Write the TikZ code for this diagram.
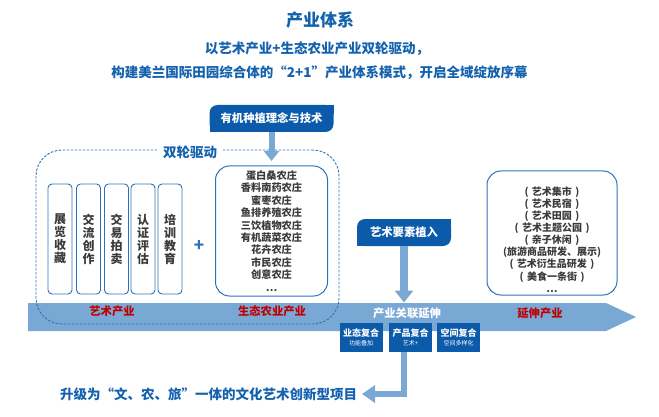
\documentclass[tikz,border=0pt]{standalone}
\usepackage{fontspec}
\setmainfont{Noto Sans CJK SC}
\usetikzlibrary{arrows.meta,calc}
\definecolor{dkblue}{HTML}{0B5BAA}
\definecolor{ttblue}{HTML}{1462AE}
\definecolor{ltblue}{HTML}{7AA8D5}
\definecolor{lnblue}{HTML}{2F70B8}
\definecolor{redtxt}{HTML}{C00000}
\definecolor{gtxt}{HTML}{3A3A3A}
\newcommand\fsz[2]{\fontsize{#1}{#2}\selectfont}
\newcommand\subtxtfont{\mdseries\fsz{6}{7}}
\newcommand\pp[1]{(\hspace{3.5pt}#1\hspace{3.5pt})}
\begin{document}
\begin{tikzpicture}[x=1pt,y=-1pt,
  every node/.style={inner sep=0pt,outer sep=0pt},
  tagbox/.style={fill=dkblue,text=white,font=\bfseries\fsz{11.3}{13},rounded corners=8pt,minimum height=27pt},
  colbox/.style={draw=lnblue,line width=0.9pt,rounded corners=4pt,minimum width=24pt,minimum height=110pt,text=gtxt,font=\bfseries\fsz{12}{13},align=center},
  listbox/.style={draw=lnblue,line width=1pt,rounded corners=14pt},
  listtext/.style={text=gtxt,font=\bfseries\fsz{10.2}{12.4},align=center},
  bandlbl/.style={font=\bfseries\fsz{11.3}{13}},
  mixbox/.style={fill=dkblue,text=white,minimum width=43pt,minimum height=28.5pt,align=center,font=\bfseries\fsz{9}{10}},
  fatarrow/.style={draw=ltblue,line width=6pt,-{Triangle[width=15pt,length=10pt]}},
]
\useasboundingbox (0,0) rectangle (659,417);

% titles
\node[text=ttblue,font=\bfseries\fsz{17}{20}] (title) at (320,20) {产业体系};
\node[text=ttblue,font=\bfseries\fsz{13.5}{16}] (sub1) at (317,49) {以艺术产业+生态农业产业双轮驱动，};
\node[text=ttblue,font=\bfseries\fsz{13.5}{16}] (sub2) at (319.5,73) {构建美兰国际田园综合体的“2+1”产业体系模式，开启全域绽放序幕};

% band
\fill[ltblue] (28,303) -- (606,303) -- (636,317) -- (606,331) -- (28,331) -- cycle;
\node[bandlbl,text=redtxt] (l1) at (112,311) {艺术产业};
\node[bandlbl,text=redtxt] (l2) at (272,311) {生态农业产业};
\node[bandlbl,text=white] (l3) at (407,313) {产业关联延伸};
\node[bandlbl,text=redtxt] (l4) at (540,313) {延伸产业};

% dual-wheel dashed group
\node[draw=lnblue,dash pattern=on 2.5pt off 1.5pt,line width=0.9pt,rounded corners=26pt,minimum width=303pt,minimum height=174pt] (dual) at (187.5,237) {};
\node[fill=white,inner xsep=6pt,inner ysep=2pt,text=ttblue,font=\bfseries\fsz{13.5}{15}] (duallbl) at (190,152) {双轮驱动};

% art columns
\node[colbox] (c1) at (60,239) {展\\览\\收\\藏};
\node[colbox] (c2) at (88.5,239) {交\\流\\创\\作};
\node[colbox] (c3) at (116.5,239) {交\\易\\拍\\卖};
\node[colbox] (c4) at (143,239) {认\\证\\评\\估};
\node[colbox] (c5) at (170,239) {培\\训\\教\\育};
\node[text=lnblue,font=\bfseries\fsz{17}{17}] (plus) at (199,246) {+};

% farm list
\node[listbox,listtext,minimum width=112pt,minimum height=130pt] (farm) at (271.5,231) {蛋白桑农庄\\香料南药农庄\\蜜枣农庄\\鱼排养殖农庄\\三饮植物农庄\\有机蔬菜农庄\\花卉农庄\\市民农庄\\创意农庄\\…};

% technology tag
\node[tagbox,minimum width=124pt] (tech) at (271.5,118.5) {有机种植理念与技术};
\fill[dkblue] ([xshift=-9pt,yshift=-9pt]tech.north east) rectangle (tech.north east);
\fill[dkblue] (tech.south west) rectangle ([xshift=9pt,yshift=9pt]tech.south west);
\draw[fatarrow] (tech.south) -- ([yshift=5pt]farm.north);

% art element tag
\node[tagbox,minimum width=94pt] (art) at (404,232.5) {艺术要素植入};
\fill[dkblue] ([xshift=-9pt,yshift=-9pt]art.north east) rectangle (art.north east);
\fill[dkblue] (art.south west) rectangle ([xshift=9pt,yshift=9pt]art.south west);
\coordinate (bandin) at (404,302.5);
\draw[fatarrow,line width=8pt,-{Triangle[width=18pt,length=12pt]}] (art.south) -- (bandin);

% extension list
\node[listbox,minimum width=130pt,minimum height=124pt] (ext) at (552,233) {};
\node[listtext,font=\bfseries\fsz{10}{12.1}] (extlist) at (552,239.5) {\pp{艺术集市}\\\pp{艺术民宿}\\\pp{艺术田园}\\\pp{艺术主题公园}\\\pp{亲子休闲}\\(旅游商品研发、展示)\\\pp{艺术衍生品研发}\\\pp{美食一条街}\\…};

% mix boxes
\node[mixbox] (m1) at (361,337.5) {业态复合\\[-1pt]{\subtxtfont 功能叠加}};
\node[mixbox] (m2) at (410.5,337.5) {产品复合\\[-1pt]{\subtxtfont 艺术+}};
\node[mixbox] (m3) at (458.5,337.5) {空间复合\\[-1pt]{\subtxtfont 空间多样化}};

% goal
\node[text=ttblue,font=\bfseries\fsz{13.5}{16}] (goal) at (208.5,394) {升级为“文、农、旅”一体的文化艺术创新型项目};
\draw[fatarrow,-{Triangle[width=17pt,length=13pt]}] ([xshift=-6.5pt]m2.south) |- ([xshift=5pt]goal.east);
\end{tikzpicture}
\end{document}
